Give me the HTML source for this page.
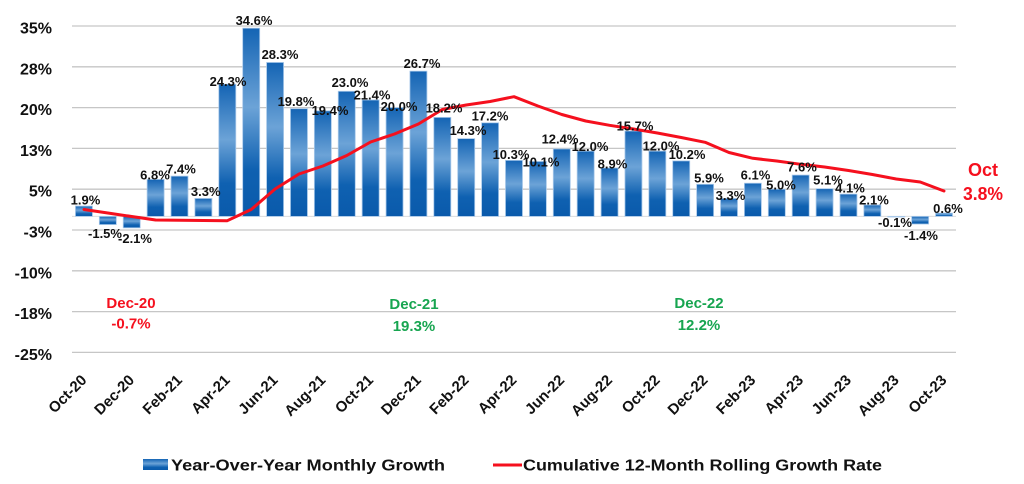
<!DOCTYPE html>
<html>
<head>
<meta charset="utf-8">
<style>
html,body{margin:0;padding:0;background:#fff;}
svg{display:block;}
text{font-family:"Liberation Sans",Arial,sans-serif;font-weight:bold;}
</style>
</head>
<body>
<svg width="1024" height="484" viewBox="0 0 1024 484" xmlns="http://www.w3.org/2000/svg">
<defs>
<linearGradient id="bg" x1="0" y1="0" x2="0" y2="1">
<stop offset="0" stop-color="#1464b4"/>
<stop offset="0.42" stop-color="#6ca3d7"/>
<stop offset="0.75" stop-color="#0f61b1"/>
<stop offset="1" stop-color="#0a5aab"/>
</linearGradient>
</defs>
<rect width="1024" height="484" fill="#fff"/>
<g stroke="#c6c6c6" stroke-width="1.3">
<line x1="72" y1="26" x2="956" y2="26"/>
<line x1="72" y1="66.8" x2="956" y2="66.8"/>
<line x1="72" y1="107.6" x2="956" y2="107.6"/>
<line x1="72" y1="148.4" x2="956" y2="148.4"/>
<line x1="72" y1="189.2" x2="956" y2="189.2"/>
<line x1="72" y1="230" x2="956" y2="230"/>
<line x1="72" y1="270.8" x2="956" y2="270.8"/>
<line x1="72" y1="311.6" x2="956" y2="311.6"/>
<line x1="72" y1="352.4" x2="956" y2="352.4"/>
</g>
<line x1="72" y1="216.4" x2="956" y2="216.4" stroke="#dcdcdc" stroke-width="1"/>
<g font-size="16" text-anchor="end" fill="#111">
<text x="52" y="33.5">35%</text>
<text x="52" y="74.3">28%</text>
<text x="52" y="115.1">20%</text>
<text x="52" y="155.9">13%</text>
<text x="52" y="196.7">5%</text>
<text x="52" y="237.5">-3%</text>
<text x="52" y="278.3">-10%</text>
<text x="52" y="319.1">-18%</text>
<text x="52" y="359.9">-25%</text>
</g>
<g fill="url(#bg)" stroke="#a9c9ea" stroke-width="0.8">
<rect x="75.45" y="206.06" width="17" height="10.34"/>
<rect x="99.34" y="216.4" width="17" height="8.16"/>
<rect x="123.23" y="216.4" width="17" height="11.42"/>
<rect x="147.12" y="179.41" width="17" height="36.99"/>
<rect x="171.01" y="176.14" width="17" height="40.26"/>
<rect x="194.9" y="198.45" width="17" height="17.95"/>
<rect x="218.8" y="84.21" width="17" height="132.19"/>
<rect x="242.69" y="28.18" width="17" height="188.22"/>
<rect x="266.58" y="62.45" width="17" height="153.95"/>
<rect x="290.47" y="108.69" width="17" height="107.71"/>
<rect x="314.36" y="110.86" width="17" height="105.54"/>
<rect x="338.25" y="91.28" width="17" height="125.12"/>
<rect x="362.14" y="99.98" width="17" height="116.42"/>
<rect x="386.04" y="107.6" width="17" height="108.8"/>
<rect x="409.93" y="71.15" width="17" height="145.25"/>
<rect x="433.82" y="117.39" width="17" height="99.01"/>
<rect x="457.71" y="138.61" width="17" height="77.79"/>
<rect x="481.6" y="122.83" width="17" height="93.57"/>
<rect x="505.49" y="160.37" width="17" height="56.03"/>
<rect x="529.38" y="161.46" width="17" height="54.94"/>
<rect x="553.28" y="148.94" width="17" height="67.46"/>
<rect x="577.17" y="151.12" width="17" height="65.28"/>
<rect x="601.06" y="167.98" width="17" height="48.42"/>
<rect x="624.95" y="130.99" width="17" height="85.41"/>
<rect x="648.84" y="151.12" width="17" height="65.28"/>
<rect x="672.73" y="160.91" width="17" height="55.49"/>
<rect x="696.62" y="184.3" width="17" height="32.1"/>
<rect x="720.52" y="198.45" width="17" height="17.95"/>
<rect x="744.41" y="183.22" width="17" height="33.18"/>
<rect x="768.3" y="189.2" width="17" height="27.2"/>
<rect x="792.19" y="175.06" width="17" height="41.34"/>
<rect x="816.08" y="188.66" width="17" height="27.74"/>
<rect x="839.97" y="194.1" width="17" height="22.3"/>
<rect x="863.86" y="204.98" width="17" height="11.42"/>
<rect x="887.76" y="216.4" width="17" height="0.6"/>
<rect x="911.65" y="216.4" width="17" height="7.62"/>
<rect x="935.54" y="213.14" width="17" height="3.26"/>
</g>
<polyline fill="none" stroke="#f5101e" stroke-width="3" stroke-linejoin="round" stroke-linecap="round" points="84,209.5 107.8,213 131.7,216.5 155.6,220 179.5,220.3 203.4,220.5 227.3,220.7 251.2,209.5 275.1,189 299,174 322.9,166 346.8,155.5 370.6,142 394.5,134 418.4,124 442.3,109.5 466.2,105 490.1,101.5 514,96.7 537.9,106 561.8,114.5 585.7,121 609.6,125.3 633.5,129 657.3,133 681.2,137.5 705.1,142.3 729,152.5 752.9,158.3 776.8,161 800.7,164.3 824.6,167 848.5,170.5 872.4,174.5 896.3,179 920.2,182 944,191"/>
<g font-size="13" text-anchor="middle" fill="#111">
<text x="85.5" y="204.5">1.9%</text>
<text x="105" y="238">-1.5%</text>
<text x="135" y="243">-2.1%</text>
<text x="155" y="179.5">6.8%</text>
<text x="181" y="173.3">7.4%</text>
<text x="205.7" y="196">3.3%</text>
<text x="228" y="86">24.3%</text>
<text x="254" y="25">34.6%</text>
<text x="280" y="59">28.3%</text>
<text x="296" y="106">19.8%</text>
<text x="330" y="115">19.4%</text>
<text x="350" y="87">23.0%</text>
<text x="372" y="99.3">21.4%</text>
<text x="399" y="111">20.0%</text>
<text x="422" y="68">26.7%</text>
<text x="444" y="112.3">18.2%</text>
<text x="468" y="135">14.3%</text>
<text x="490" y="120.7">17.2%</text>
<text x="511" y="159">10.3%</text>
<text x="541" y="166.7">10.1%</text>
<text x="560" y="143.3">12.4%</text>
<text x="590" y="151">12.0%</text>
<text x="612.5" y="168.3">8.9%</text>
<text x="635" y="130.7">15.7%</text>
<text x="661" y="150.5">12.0%</text>
<text x="687" y="159">10.2%</text>
<text x="709" y="182.7">5.9%</text>
<text x="730.5" y="200">3.3%</text>
<text x="755.5" y="179.3">6.1%</text>
<text x="781" y="189.3">5.0%</text>
<text x="802" y="171.7">7.6%</text>
<text x="828" y="184.5">5.1%</text>
<text x="850" y="192.7">4.1%</text>
<text x="874" y="204.3">2.1%</text>
<text x="895" y="227">-0.1%</text>
<text x="921" y="240">-1.4%</text>
<text x="948" y="213">0.6%</text>
</g>
<g font-size="15" text-anchor="end" fill="#111">
<text transform="translate(87.5,381) rotate(-45)">Oct-20</text>
<text transform="translate(135.2,381) rotate(-45)">Dec-20</text>
<text transform="translate(183,381) rotate(-45)">Feb-21</text>
<text transform="translate(230.8,381) rotate(-45)">Apr-21</text>
<text transform="translate(278.6,381) rotate(-45)">Jun-21</text>
<text transform="translate(326.4,381) rotate(-45)">Aug-21</text>
<text transform="translate(374.1,381) rotate(-45)">Oct-21</text>
<text transform="translate(421.9,381) rotate(-45)">Dec-21</text>
<text transform="translate(469.7,381) rotate(-45)">Feb-22</text>
<text transform="translate(517.5,381) rotate(-45)">Apr-22</text>
<text transform="translate(565.3,381) rotate(-45)">Jun-22</text>
<text transform="translate(613.1,381) rotate(-45)">Aug-22</text>
<text transform="translate(660.8,381) rotate(-45)">Oct-22</text>
<text transform="translate(708.6,381) rotate(-45)">Dec-22</text>
<text transform="translate(756.4,381) rotate(-45)">Feb-23</text>
<text transform="translate(804.2,381) rotate(-45)">Apr-23</text>
<text transform="translate(852,381) rotate(-45)">Jun-23</text>
<text transform="translate(899.8,381) rotate(-45)">Aug-23</text>
<text transform="translate(947.5,381) rotate(-45)">Oct-23</text>
</g>
<g font-size="15" text-anchor="middle">
<text x="131" y="308" fill="#f5101e">Dec-20</text>
<text x="131" y="328.5" fill="#f5101e">-0.7%</text>
<text x="414" y="309" fill="#17a550">Dec-21</text>
<text x="414" y="331" fill="#17a550">19.3%</text>
<text x="699" y="308" fill="#17a550">Dec-22</text>
<text x="699" y="330" fill="#17a550">12.2%</text>
</g>
<g font-size="18" text-anchor="middle" fill="#f5101e">
<text x="983" y="176">Oct</text>
<text x="983" y="200" textLength="40" lengthAdjust="spacingAndGlyphs">3.8%</text>
</g>
<rect x="143" y="459" width="25" height="11" fill="url(#bg)"/>
<text x="171" y="470.5" font-size="16" fill="#111" textLength="274" lengthAdjust="spacingAndGlyphs">Year-Over-Year Monthly Growth</text>
<line x1="493" y1="465" x2="522" y2="465" stroke="#f5101e" stroke-width="3"/>
<text x="523" y="470.5" font-size="16" fill="#111" textLength="359" lengthAdjust="spacingAndGlyphs">Cumulative 12-Month Rolling Growth Rate</text>
</svg>
</body>
</html>
